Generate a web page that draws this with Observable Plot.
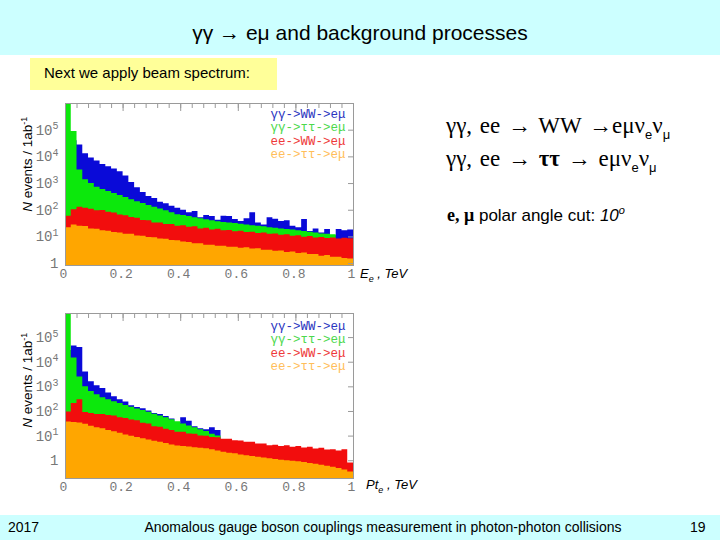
<!DOCTYPE html>
<html><head><meta charset="utf-8">
<script src="https://cdn.jsdelivr.net/npm/d3@7"></script>
<script src="https://cdn.jsdelivr.net/npm/@observablehq/plot@0.6"></script>
<style>
body{margin:0;width:720px;height:540px;position:relative;background:#fff;font-family:"Liberation Sans",Arial,sans-serif;overflow:hidden;color:#000}
.abs{position:absolute;white-space:nowrap}
.serif{font-family:"Liberation Serif","Times New Roman",serif}
.sub{font-family:"Liberation Sans",Arial,sans-serif;font-size:13px;position:relative;top:6px}
.ylab{width:200px;text-align:center;font-size:13.5px;transform:rotate(-90deg);transform-origin:center}
.xlab{font-size:13px;font-style:italic}
.xlab sub{font-size:9px}
svg{overflow:visible}
</style></head><body>
<div class="abs" style="left:0;top:0;width:720px;height:55px;background:#ccffff"></div>
<div class="abs" style="left:0;top:21px;width:720px;text-align:center;font-size:21px">γγ → eμ and background processes</div>
<div class="abs" style="left:30px;top:58px;width:247px;height:32px;background:#ffff99"></div>
<div class="abs" style="left:44px;top:64px;font-size:15px">Next we apply beam spectrum:</div>

<div class="abs serif" style="left:446px;top:111px;font-size:23px;line-height:30px;word-spacing:2px">γγ, ee → WW →eμν<span class="sub">e</span>ν<span class="sub">μ</span><br>γγ, ee → <b>ττ</b> → eμν<span class="sub">e</span>ν<span class="sub">μ</span></div>
<div class="abs" style="left:447px;top:204px;font-size:17px"><b class="serif" style="font-size:18px">e, μ</b> polar angle cut: <i>10<sup style="font-size:11px">o</sup></i></div>

<div id="p1" class="abs" style="left:0;top:95px"></div>
<div id="p2" class="abs" style="left:0;top:305px"></div>

<div class="abs ylab" style="left:-73px;top:156px"><i>N</i> events / 1ab<sup style="font-size:9px">-1</sup></div>
<div class="abs ylab" style="left:-73px;top:372px"><i>N</i> events / 1ab<sup style="font-size:9px">-1</sup></div>
<div class="abs xlab" style="left:360px;top:266px">E<sub>e</sub> , TeV</div>
<div class="abs xlab" style="left:366px;top:477px">Pt<sub>e</sub> , TeV</div>

<div class="abs" style="left:0;top:515px;width:720px;height:25px;background:#ccffff"></div>
<div class="abs" style="left:8px;top:519px;font-size:14px">2017</div>
<div class="abs" style="left:0;top:519px;width:766px;text-align:center;font-size:14px">Anomalous gauge boson couplings measurement in photon-photon collisions</div>
<div class="abs" style="left:690px;top:519px;font-size:14px">19</div>

<script>
// ---- data: bins of 0.02 TeV, events per 1 ab^-1 ----
const binWidth = 0.02;
const binLo = d3.range(50).map(i => +(i * binWidth).toFixed(2));
const legendLabels = ["γγ->WW->eμ", "γγ->ττ->eμ", "ee->WW->eμ", "ee->ττ->eμ"];
const xTickValues = [0, 0.2, 0.4, 0.6, 0.8, 1];
const yTickValues = [1, 10, 100, 1e3, 1e4, 1e5];

// Panel 1: electron energy E_e
const energy_ggWW = [3e4, 4e4, 2.8e4, 1.3e4, 9000, 7000, 5200, 4300, 3500, 2800, 1900, 1100, 700, 460, 330, 275, 200, 175, 140, 120, 100, 80, 90, 52, 63, 58, 42, 60, 58, 45, 38, 48, 80, 33, 28, 52, 46, 38, 40, 25, 22, 45, 16, 20, 14, 19, 11, 19, 17, 18];
const energy_ggTT = [2e6, 9e4, 3200, 1400, 1000, 720, 600, 500, 420, 360, 300, 250, 210, 178, 150, 130, 112, 95, 80, 68, 63, 58, 52, 48, 44, 40, 37, 35, 33, 32, 30, 28, 26, 25, 24, 22, 21, 20, 19, 18, 17, 16, 15, 14, 13, 12.5, 12, 8, 7.5, 7];
const energy_eeWW = [60, 105, 130, 118, 108, 96, 98, 84, 78, 66, 62, 53, 50, 41, 40, 33, 33, 29, 29, 25, 26, 23, 24, 20, 21, 18, 19.5, 17, 17.5, 15.5, 16.5, 14.5, 15, 13.5, 14, 12.5, 13, 11.5, 12, 10.5, 11, 9.8, 10.3, 9.2, 9.6, 8.7, 9.2, 8.3, 9, 8.6];
const energy_eeTT = [22, 28, 25, 24.5, 20, 19.5, 17, 16.5, 14.5, 14, 12.5, 12.5, 10.8, 10.6, 9.6, 9.4, 8.3, 8.2, 7.3, 7.2, 6.4, 6.2, 5.6, 5.5, 4.9, 4.9, 4.5, 4.5, 4.1, 4.1, 3.8, 3.9, 3.5, 3.6, 3.2, 3.2, 2.9, 3.0, 2.6, 2.7, 2.4, 2.5, 2.2, 2.2, 1.9, 2.0, 1.75, 1.75, 1.55, 1.5];

// Panel 2: electron transverse momentum Pt_e
const pt_ggWW = [3e4, 4.5e4, 4e4, 4000, 1600, 1100, 850, 560, 400, 300, 240, 170, 145, 130, 105, 82, 75, 62, 50, 32, 55, 40, 24, 20, 18, 22, 17, null, null, null, null, null, null, null, null, null, null, null, null, null, null, null, null, null, null, null, null, null, null, null];
const pt_ggTT = [2e6, 1.5e4, 2500, 1000, 650, 480, 360, 300, 250, 210, 175, 150, 125, 110, 92, 78, 66, 55, 46, 38, 31, 26, 22, 18, 15.5, 12, 10, null, null, null, null, null, null, null, null, null, null, null, null, null, null, null, null, null, null, null, null, null, null, null];
const pt_eeWW = [95, 210, 300, 90, 82, 76, 76, 68, 65, 56, 52, 45, 42, 33, 31, 24, 23, 19, 17, 14.5, 14.5, 12.3, 12, 10.2, 9.8, 8.7, 8.6, 7.5, 7.5, 6.5, 6.4, 5.6, 5.6, 4.8, 4.8, 4.1, 4.3, 3.8, 4.1, 3.5, 3.8, 3.3, 3.5, 3.0, 3.2, 2.7, 2.8, 2.5, 2.8, 0.8];
const pt_eeTT = [37, 36, 34, 30, 25, 22, 20, 17, 15, 13, 11, 9.8, 8.8, 7.9, 7, 6.2, 5.6, 5, 4.4, 4, 3.8, 3.6, 3.4, 3.2, 3.1, 2.8, 2.5, 2.2, 2.0, 1.9, 1.7, 1.6, 1.5, 1.4, 1.3, 1.2, 1.12, 1.05, 1.0, 0.95, 0.9, 0.85, 0.78, 0.72, 0.66, 0.6, 0.55, 0.48, 0.42, 0.35];

// ---- styling ----
const seriesColors = ["#0a0ad8", "#0ce80c", "#f20d0d", "#ffa600"];
const legendColors = ["#2a35c0", "#4cd84c", "#ee3a3a", "#ffbe5a"];
const monoFont = "'Liberation Mono','DejaVu Sans Mono',monospace";

function stepRows(values) {
  const out = [];
  values.forEach((v, i) => {
    out.push({x: binLo[i], v});
    out.push({x: binLo[i] + binWidth, v});
  });
  return out;
}

function panel({series, yDomain, height, marginTop, marginBottom, legendTop, legendStep}) {
  const marks = [];
  series.forEach((vals, i) => {
    marks.push(Plot.areaY(stepRows(vals), {x: "x", y1: yDomain[0], y2: "v", fill: seriesColors[i], clip: true}));
  });
  legendLabels.forEach((lab, i) => {
    marks.push(Plot.text([lab], {text: d => d, frameAnchor: "top-right", dx: -8, dy: legendTop + i * legendStep,
      fill: legendColors[i], fontFamily: monoFont, fontSize: 12.5, lineAnchor: "middle", textAnchor: "end"}));
  });
  marks.push(
    Plot.frame({stroke: "#9a9a9a"}),
    Plot.axisX({anchor: "top", ticks: d3.range(0, 1.001, 0.04), tickSize: -4, tickFormat: () => "", stroke: "#9a9a9a", label: null}),
    Plot.axisX({anchor: "top", ticks: xTickValues, tickSize: -7, tickFormat: () => "", stroke: "#9a9a9a", label: null}),
    Plot.axisX({anchor: "bottom", ticks: xTickValues, tickSize: 0, tickPadding: 3, dx: -2,
      tickFormat: d => d === 0 ? "0" : d === 1 ? "1" : d.toFixed(1), label: null, fill: "#777"}),
    Plot.axisY({anchor: "right", ticks: yTickValues, tickSize: -6, tickFormat: () => "", stroke: "#9a9a9a", label: null}),
    Plot.axisY({anchor: "left", ticks: yTickValues, tickSize: 0, tickPadding: 7,
      tickFormat: d => d === 1 ? "1" : "10^" + Math.round(Math.log10(d)), label: null, fill: "#777", fontSize: 14})
  );
  const svg = Plot.plot({
    width: 360, height, marginLeft: 65, marginRight: 7, marginTop, marginBottom,
    x: {domain: [0, 1]},
    y: {type: "log", domain: yDomain},
    style: {fontFamily: monoFont, fontSize: "13px", background: "transparent", color: "#777"},
    marks
  });
  // superscript exponents on log tick labels
  svg.querySelectorAll("text").forEach(t => {
    const m = /^10\^(\d)$/.exec(t.textContent);
    if (m) {
      t.textContent = "";
      const a = document.createElementNS("http://www.w3.org/2000/svg", "tspan");
      a.textContent = "10";
      const b = document.createElementNS("http://www.w3.org/2000/svg", "tspan");
      b.textContent = m[1];
      b.setAttribute("dy", "-0.55em");
      b.setAttribute("font-size", "10");
      t.appendChild(a); t.appendChild(b);
    }
  });
  return svg;
}

document.getElementById("p1").appendChild(panel({
  series: [energy_ggWW, energy_ggTT, energy_eeWW, energy_eeTT],
  yDomain: [0.85, 1e6], height: 190, marginTop: 8, marginBottom: 20, legendTop: 10, legendStep: 13.5
}));
document.getElementById("p2").appendChild(panel({
  series: [pt_ggWW, pt_ggTT, pt_eeWW, pt_eeTT],
  yDomain: [0.19, 9.5e5], height: 190, marginTop: 8, marginBottom: 17, legendTop: 12, legendStep: 13.5
}));
</script>
</body></html>
